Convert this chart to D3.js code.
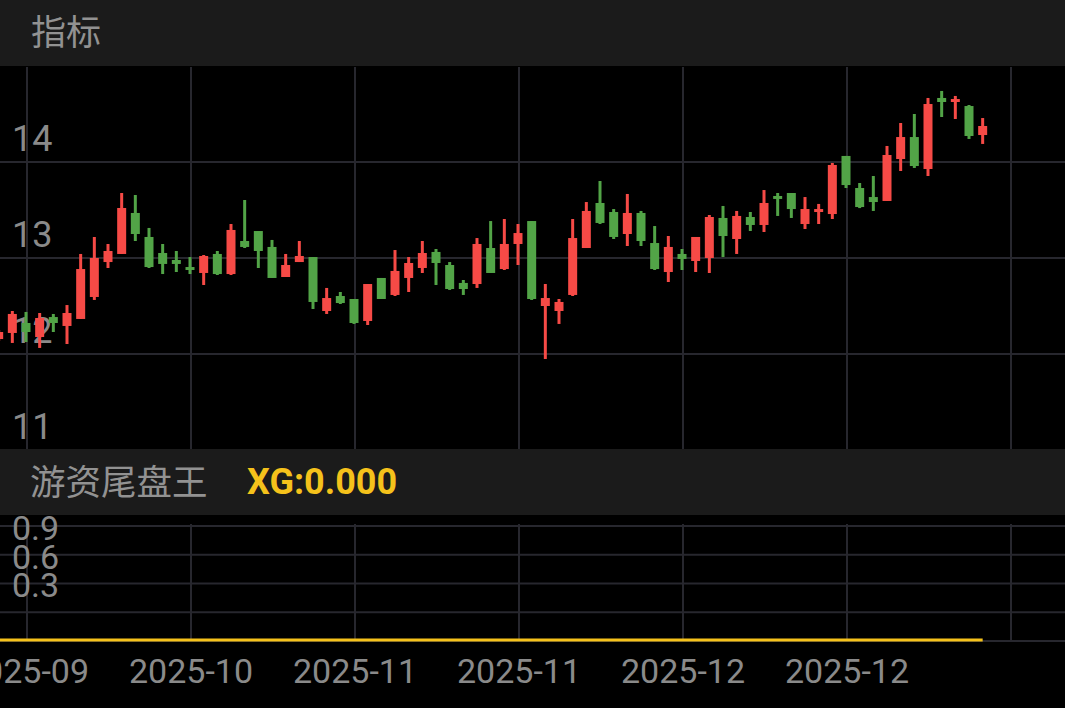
<!DOCTYPE html>
<html>
<head>
<meta charset="utf-8">
<script src="https://cdn.jsdelivr.net/npm/d3@7"></script>
<style>
  html, body { margin: 0; padding: 0; background: #000; }
  svg { display: block; }
</style>
</head>
<body>
<svg id="chart" width="1065" height="708"></svg>
<script>
// ---- data ----
const openP  = [12.156,12.219,12.323,12.177,12.385,12.292,12.365,12.594,12.958,13.042,
                13.469,13.219,13.052,12.979,12.906,12.844,13.042,12.833,13.177,13.281,
                13.115,12.802,12.958,13.010,12.448,12.604,12.573,12.344,12.792,12.615,
                12.792,12.896,13.063,12.927,12.740,12.729,13.104,12.885,13.146,13.385,
                12.500,12.448,12.615,13.104,13.573,13.479,13.250,13.469,13.156,12.854,
                13.042,12.969,13.000,13.417,13.198,13.427,13.344,13.646,13.677,13.354,
                13.479,13.458,14.063,13.729,13.635,13.594,14.031,14.260,13.927,14.667,
                14.625,14.583,14.281];
const highP  = [12.250,12.448,12.438,12.427,12.417,12.510,13.042,13.219,13.146,13.677,
                13.656,13.313,13.146,13.073,13.010,13.031,13.073,13.354,13.604,13.281,
                13.188,13.042,13.177,13.010,12.688,12.646,12.573,12.729,12.792,13.083,
                13.010,13.177,13.094,12.958,12.771,13.208,13.385,13.406,13.354,13.385,
                12.729,12.573,13.406,13.583,13.802,13.510,13.667,13.490,13.333,13.229,
                13.094,13.219,13.448,13.542,13.490,13.479,13.708,13.677,13.677,13.635,
                13.563,13.990,14.063,13.781,13.854,14.167,14.406,14.500,14.667,14.740,
                14.688,14.594,14.458];
const lowP   = [12.135,12.115,12.125,12.063,12.229,12.104,12.365,12.563,12.896,13.042,
                13.177,12.896,12.833,12.854,12.833,12.719,12.823,12.823,13.104,12.896,
                12.792,12.802,12.958,12.469,12.417,12.521,12.313,12.302,12.573,12.604,
                12.646,12.844,12.719,12.667,12.615,12.688,12.844,12.875,12.927,12.563,
                11.948,12.313,12.604,13.104,13.354,13.198,13.125,13.125,12.875,12.750,
                12.875,12.854,12.844,13.010,13.042,13.281,13.271,13.438,13.417,13.302,
                13.354,13.406,13.729,13.520,13.490,13.594,13.906,13.938,13.854,14.469,
                14.448,14.240,14.188];
const closeP = [12.229,12.417,12.229,12.375,12.323,12.427,12.885,13.000,13.073,13.521,
                13.250,12.906,12.938,12.938,12.875,13.021,12.833,13.292,13.115,13.073,
                12.792,12.927,13.021,12.542,12.583,12.531,12.323,12.729,12.573,12.865,
                12.948,13.052,12.948,12.677,12.677,13.146,12.844,13.146,13.260,12.573,
                12.583,12.542,13.208,13.490,13.365,13.219,13.469,13.177,12.885,13.115,
                12.990,13.219,13.427,13.229,13.438,13.344,13.573,13.615,13.510,13.510,
                13.510,13.969,13.760,13.531,13.583,14.073,14.260,13.958,14.604,14.625,
                14.656,14.271,14.375];
const xgValues = [0,0,0,0,0,0,0,0,0,0, 0,0,0,0,0,0,0,0,0,0, 0,0,0,0,0,0,0,0,0,0,
                  0,0,0,0,0,0,0,0,0,0, 0,0,0,0,0,0,0,0,0,0, 0,0,0,0,0,0,0,0,0,0,
                  0,0,0,0,0,0,0,0,0,0, 0,0,0];
const mainTicks   = [11, 12, 13, 14];
const subTicks    = [0.3, 0.6, 0.9];
const subGrid     = [0, 0.3, 0.6, 0.9, 1.2];
const gridIndex   = [2, 14, 26, 38, 50, 62, 74];
const xTickIndex  = [2, 14, 26, 38, 50, 62];
const xTickLabels = ["2025-09", "2025-10", "2025-11", "2025-11", "2025-12", "2025-12"];
const titleMain = "指标";
const titleSub  = "游资尾盘王";
const xgLabel   = "XG:" + d3.format(".3f")(xgValues[xgValues.length - 1]);

// ---- style ----
const W = 1065, H = 708;
const BG = "#000000", BAND = "#1b1b1b", GRID = "#27272e", TXT = "#8a8a8a", TXT2 = "#929292";
const UP = "#f64a46", DOWN = "#52a447", GOLD = "#f5c21b";
const FONT = "Roboto, 'Noto Sans CJK SC', sans-serif";

const svg = d3.select("#chart");
svg.append("rect").attr("width", W).attr("height", H).attr("fill", BG);

// layout
const mainTop = 67, mainBot = 449;
const subTop = 524, subBot = 641;

const x = d3.scaleLinear().domain([2, 74]).range([26, 1010]);
const y = d3.scaleLinear().domain([11, 14]).range([450, 162]);
const y2 = d3.scaleLinear().domain([0, 1.2]).range([640, 525]);

const defs = svg.append("defs");
defs.append("clipPath").attr("id", "clipMain")
  .append("rect").attr("x", 0).attr("y", mainTop).attr("width", W).attr("height", mainBot - mainTop);

// ---- main panel ----
const gMain = svg.append("g").attr("clip-path", "url(#clipMain)");
gMain.selectAll("line.hg").data(mainTicks).join("line")
  .attr("x1", 0).attr("x2", W)
  .attr("y1", d => y(d)).attr("y2", d => y(d))
  .attr("stroke", GRID).attr("stroke-width", 2);
gMain.selectAll("line.vg").data(gridIndex).join("line")
  .attr("x1", d => x(d) + 1).attr("x2", d => x(d) + 1)
  .attr("y1", mainTop).attr("y2", mainBot)
  .attr("stroke", GRID).attr("stroke-width", 2);
gMain.selectAll("text.yl").data(mainTicks).join("text")
  .attr("x", 12).attr("y", d => y(d) - 11)
  .attr("fill", TXT).attr("font-family", FONT).attr("font-size", 36)
  .text(d => d3.format("d")(d));

const candles = openP.map((o, i) => ({ i, o, h: highP[i], l: lowP[i], c: closeP[i] }));
const gC = gMain.append("g");
gC.selectAll("line.wick").data(candles).join("line")
  .attr("x1", d => x(d.i)).attr("x2", d => x(d.i))
  .attr("y1", d => y(d.h)).attr("y2", d => y(d.l))
  .attr("stroke", d => d.c >= d.o ? UP : DOWN).attr("stroke-width", 3);
gC.selectAll("rect.body").data(candles).join("rect")
  .attr("x", d => x(d.i) - 4.5).attr("width", 9)
  .attr("y", d => y(Math.max(d.o, d.c)))
  .attr("height", d => Math.max(2.5, Math.abs(y(d.o) - y(d.c))))
  .attr("fill", d => d.c >= d.o ? UP : DOWN);

// ---- header bands ----
svg.append("rect").attr("x", 0).attr("y", 0).attr("width", W).attr("height", 66).attr("fill", BAND);
svg.append("text").attr("x", 31).attr("y", 45)
  .attr("fill", TXT2).attr("font-family", FONT).attr("font-size", 35).text(titleMain);

svg.append("rect").attr("x", 0).attr("y", 449).attr("width", W).attr("height", 66).attr("fill", BAND);
svg.append("text").attr("x", 30).attr("y", 495)
  .attr("fill", TXT2).attr("font-family", FONT).attr("font-size", 35.5).text(titleSub);
svg.append("text").attr("x", 247).attr("y", 494)
  .attr("fill", GOLD).attr("font-family", FONT).attr("font-size", 36).attr("font-weight", "bold")
  .text(xgLabel);

// ---- sub panel ----
const gSub = svg.append("g");
gSub.selectAll("line.hg").data(subGrid).join("line")
  .attr("x1", 0).attr("x2", W)
  .attr("y1", d => y2(d) + 1).attr("y2", d => y2(d) + 1)
  .attr("stroke", GRID).attr("stroke-width", 2);
gSub.selectAll("line.vg").data(gridIndex).join("line")
  .attr("x1", d => x(d) + 1).attr("x2", d => x(d) + 1)
  .attr("y1", subTop).attr("y2", subBot)
  .attr("stroke", GRID).attr("stroke-width", 2);
gSub.selectAll("text.yl").data(subTicks).join("text")
  .attr("x", 12).attr("y", d => y2(d) - 14)
  .attr("fill", TXT).attr("font-family", FONT).attr("font-size", 34)
  .text(d => d3.format(".1f")(d));

const line = d3.line().x((d, i) => x(i)).y(d => y2(d));
gSub.append("path").datum(xgValues)
  .attr("d", line).attr("fill", "none").attr("stroke", GOLD).attr("stroke-width", 3);

// ---- x axis labels ----
svg.selectAll("text.xl").data(xTickIndex).join("text")
  .attr("x", d => x(d) + 1).attr("y", 683)
  .attr("text-anchor", "middle")
  .attr("fill", TXT).attr("font-family", FONT).attr("font-size", 34)
  .text((d, i) => xTickLabels[i]);
</script>
</body>
</html>
